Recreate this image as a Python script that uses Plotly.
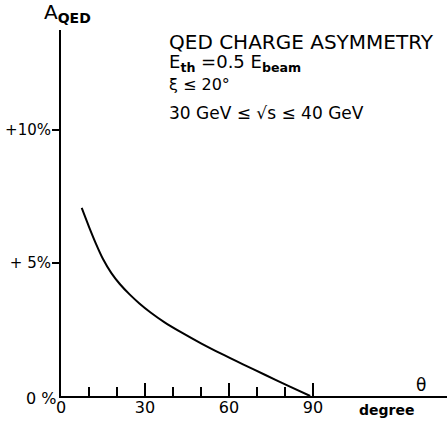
import plotly.graph_objects as go

# QED charge asymmetry vs. polar angle theta (degrees)
theta = [7.4, 10, 12.5, 15, 18, 21, 24.5, 28, 32, 37, 43, 50, 57, 65, 73, 81, 89]
asym = [7.07, 6.36, 5.72, 5.15, 4.62, 4.21, 3.82, 3.48, 3.14, 2.77, 2.39,
        1.98, 1.60, 1.19, 0.79, 0.39, 0.0]

x_tickvals = [0, 30, 60, 90]
x_ticktext = ["0", "30", "60", "90"]
x_minorvals = [10, 20, 40, 50, 70, 80]
y_tickvals = [5, 10]
y_ticktext = ["+ 5%", "+10%"]

FONT = "DejaVu Sans"

fig = go.Figure()
fig.add_trace(go.Scatter(
    x=theta, y=asym, mode="lines",
    line=dict(color="black", width=2, shape="spline", smoothing=0.8),
    hoverinfo="skip", showlegend=False,
))

W, H = 447, 422
L, R, T, B = 61, 0, 30, 26
pw, ph = W - L - R, H - T - B


def px(xp):
    return (xp - L) / pw


def py(yp):
    return (H - B - yp) / ph


fig.update_layout(
    width=W, height=H,
    margin=dict(l=L, r=R, t=T, b=B),
    paper_bgcolor="white", plot_bgcolor="white",
    font=dict(family=FONT, color="black", size=17),
    xaxis=dict(
        range=[0, pw / 2.8], showgrid=False, zeroline=False,
        showline=True, linecolor="black", linewidth=2,
        tickmode="array", tickvals=x_tickvals, ticktext=x_ticktext,
        ticks="inside", ticklen=13, tickwidth=1.5, tickcolor="black",
        minor=dict(tickmode="array", tickvals=x_minorvals, ticks="inside",
                   ticklen=9, tickwidth=1.5, tickcolor="black", showgrid=False),
        tickfont=dict(size=16), ticklabelstandoff=-4,
    ),
    yaxis=dict(
        range=[0, ph / 26.6], showgrid=False, zeroline=False,
        showline=True, linecolor="black", linewidth=2,
        tickmode="array", tickvals=y_tickvals, ticktext=y_ticktext,
        ticks="outside", ticklen=7, tickwidth=1.5, tickcolor="black",
        tickfont=dict(size=15), ticklabelstandoff=-2,
    ),
)

annotations = [
    dict(text="A<sub><b>QED</b></sub>", x=px(42), y=py(13), size=20),
    dict(text="QED CHARGE ASYMMETRY", x=px(167), y=py(42.5), size=20),
    dict(text="E<sub><b>th</b></sub> =0.5 E<sub><b>beam</b></sub>", x=px(167), y=py(63), size=18),
    dict(text="ξ ≤ 20°", x=px(167), y=py(85), size=16),
    dict(text="30 GeV ≤ √s ≤ 40 GeV", x=px(167), y=py(113), size=17),
    dict(text="0 %", x=px(24), y=py(399), size=16),
    dict(text="θ", x=px(414), y=py(385), size=17),
    dict(text="<b>degree</b>", x=px(357), y=py(410), size=14),
]
for a in annotations:
    fig.add_annotation(
        text=a["text"], x=a["x"], y=a["y"], xref="paper", yref="paper",
        xanchor="left", yanchor="middle", showarrow=False,
        font=dict(family=FONT, size=a["size"], color="black"),
    )

fig.write_html("out.html", config={"displayModeBar": False})
